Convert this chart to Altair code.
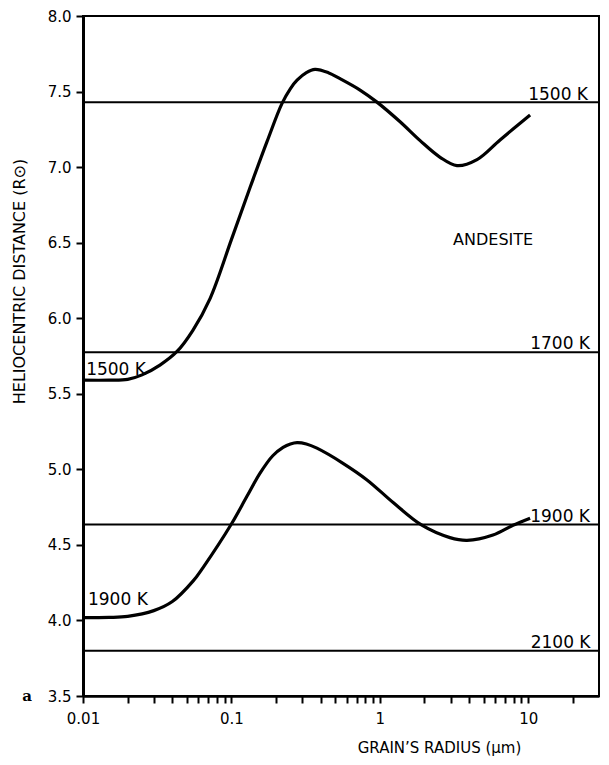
import altair as alt
import pandas as pd

# ---- data ----
upper_x = [0.01, 0.015, 0.02, 0.025, 0.033, 0.043, 0.055, 0.0718, 0.1, 0.133, 0.174,
           0.219, 0.25, 0.277, 0.32, 0.366, 0.45, 0.54, 0.736, 0.957, 1.37, 1.87, 2.55,
           3.31, 4.52, 6.46, 10.3]
upper_y = [5.59, 5.59, 5.595, 5.625, 5.69, 5.78, 5.92, 6.13, 6.52, 6.86, 7.17,
           7.42, 7.52, 7.575, 7.625, 7.647, 7.625, 7.585, 7.51, 7.43, 7.30, 7.175, 7.065,
           7.01, 7.05, 7.18, 7.345]

lower_x = [0.01, 0.015, 0.02, 0.03, 0.04, 0.0551, 0.0644, 0.1, 0.127, 0.156, 0.19,
           0.223, 0.25, 0.277, 0.32, 0.377, 0.565, 0.82, 1.23, 1.92, 2.97, 3.87, 5.79,
           7.9, 10.3]
lower_y = [4.018, 4.02, 4.027, 4.065, 4.125, 4.26, 4.35, 4.638, 4.82, 4.975, 5.09,
           5.145, 5.168, 5.177, 5.168, 5.14, 5.04, 4.93, 4.78, 4.63, 4.548, 4.53, 4.565,
           4.63, 4.677]

iso_names = ["1500 K", "1700 K", "1900 K", "2100 K"]
iso_y = [7.43, 5.775, 4.635, 3.80]

right_text = ["1500 K", "1700 K", "1900 K", "2100 K"]
right_x = [25.3, 26.1, 26.1, 26.3]
right_y = [7.447, 5.796, 4.650, 3.820]

left_text = ["1500 K", "1900 K"]
left_x = [0.0105, 0.0108]
left_y = [5.624, 4.102]

mineral_text = ["ANDESITE"]
mineral_x = [5.8]
mineral_y = [6.52]

panel_text = ["a"]
panel_x = [0.0042]
panel_y = [3.5]

x_ticks = [0.01, 0.02, 0.03, 0.04, 0.05, 0.06, 0.07, 0.08, 0.09,
           0.1, 0.2, 0.3, 0.4, 0.5, 0.6, 0.7, 0.8, 0.9,
           1, 2, 3, 4, 5, 6, 7, 8, 9, 10, 20]
y_ticks = [3.5, 4.0, 4.5, 5.0, 5.5, 6.0, 6.5, 7.0, 7.5, 8.0]

FONT = "DejaVu Sans"

curves = pd.DataFrame({
    "x": upper_x + lower_x,
    "y": upper_y + lower_y,
    "series": ["upper"] * len(upper_x) + ["lower"] * len(lower_x),
    "order": list(range(len(upper_x))) + list(range(len(lower_x))),
})
iso = pd.DataFrame({"name": iso_names, "y": iso_y})
rlab = pd.DataFrame({"t": right_text, "x": right_x, "y": right_y})
llab = pd.DataFrame({"t": left_text, "x": left_x, "y": left_y})
mlab = pd.DataFrame({"t": mineral_text, "x": mineral_x, "y": mineral_y})
plab = pd.DataFrame({"t": panel_text, "x": panel_x, "y": panel_y})

xscale = alt.Scale(type="log", domain=[0.01, 30], nice=False)
yscale = alt.Scale(domain=[3.5, 8.0], nice=False, zero=False)

xaxis = alt.Axis(
    values=x_ticks,
    labelExpr="datum.value == 0.01 ? '0.01' : datum.value == 0.1 ? '0.1' : datum.value == 1 ? '1' : datum.value == 10 ? '10' : ''",
    labelOverlap=False, labelFlush=False, grid=False, tickSize=7, tickWidth=2, tickColor="black",
    domainColor="black", domainWidth=2.5, labelColor="black", labelFont=FONT,
    labelFontSize=15, labelPadding=8,
    title="GRAIN’S RADIUS (μm)", titleFont=FONT, titleFontSize=15, titleFontWeight="normal",
    titleColor="black", titleX=356, titleY=56, titleAlign="center", titleBaseline="alphabetic",
)
yaxis = alt.Axis(
    values=y_ticks, format=".1f", grid=False, tickSize=7, tickWidth=2, tickColor="black",
    domainColor="black", domainWidth=3, labelColor="black", labelFont=FONT,
    labelFontSize=15, labelPadding=5, labelOverlap=False, labelFlush=False,
    title="HELIOCENTRIC DISTANCE (R⊙)", titleFont=FONT, titleFontSize=16,
    titleFontWeight="normal", titleColor="black", titleAngle=270,
    titleX=-64, titleY=265, titleAlign="center", titleBaseline="middle",
)

rules = alt.Chart(iso).mark_rule(color="black", strokeWidth=2).encode(
    y=alt.Y("y:Q", scale=yscale, axis=yaxis)
)
lines = alt.Chart(curves).mark_line(color="black", strokeWidth=3.2, interpolate="catmull-rom").encode(
    x=alt.X("x:Q", scale=xscale, axis=xaxis),
    y=alt.Y("y:Q", scale=yscale),
    detail="series:N",
    order="order:Q",
)
rtext = alt.Chart(rlab).mark_text(align="right", baseline="alphabetic", font=FONT,
                                  fontSize=17, color="black").encode(
    x=alt.X("x:Q", scale=xscale), y=alt.Y("y:Q", scale=yscale), text="t:N")
ltext = alt.Chart(llab).mark_text(align="left", baseline="alphabetic", font=FONT,
                                  fontSize=17, color="black").encode(
    x=alt.X("x:Q", scale=xscale), y=alt.Y("y:Q", scale=yscale), text="t:N")
mtext = alt.Chart(mlab).mark_text(align="center", baseline="middle", font=FONT,
                                  fontSize=16, color="black").encode(
    x=alt.X("x:Q", scale=xscale), y=alt.Y("y:Q", scale=yscale), text="t:N")
ptext = alt.Chart(plab).mark_text(align="center", baseline="middle", font="DejaVu Serif",
                                  fontSize=15, fontWeight="bold", color="black").encode(
    x=alt.X("x:Q", scale=xscale), y=alt.Y("y:Q", scale=yscale), text="t:N")

chart = alt.layer(rules, lines, rtext, ltext, mtext, ptext).properties(
    width=516, height=680,
    autosize=alt.AutoSizeParams(type="none"),
    padding={"left": 75, "top": 8, "right": 2, "bottom": 61},
).configure_view(stroke="black", strokeWidth=2)

chart.save("out.html", embed_options={"renderer": "svg", "actions": False})
